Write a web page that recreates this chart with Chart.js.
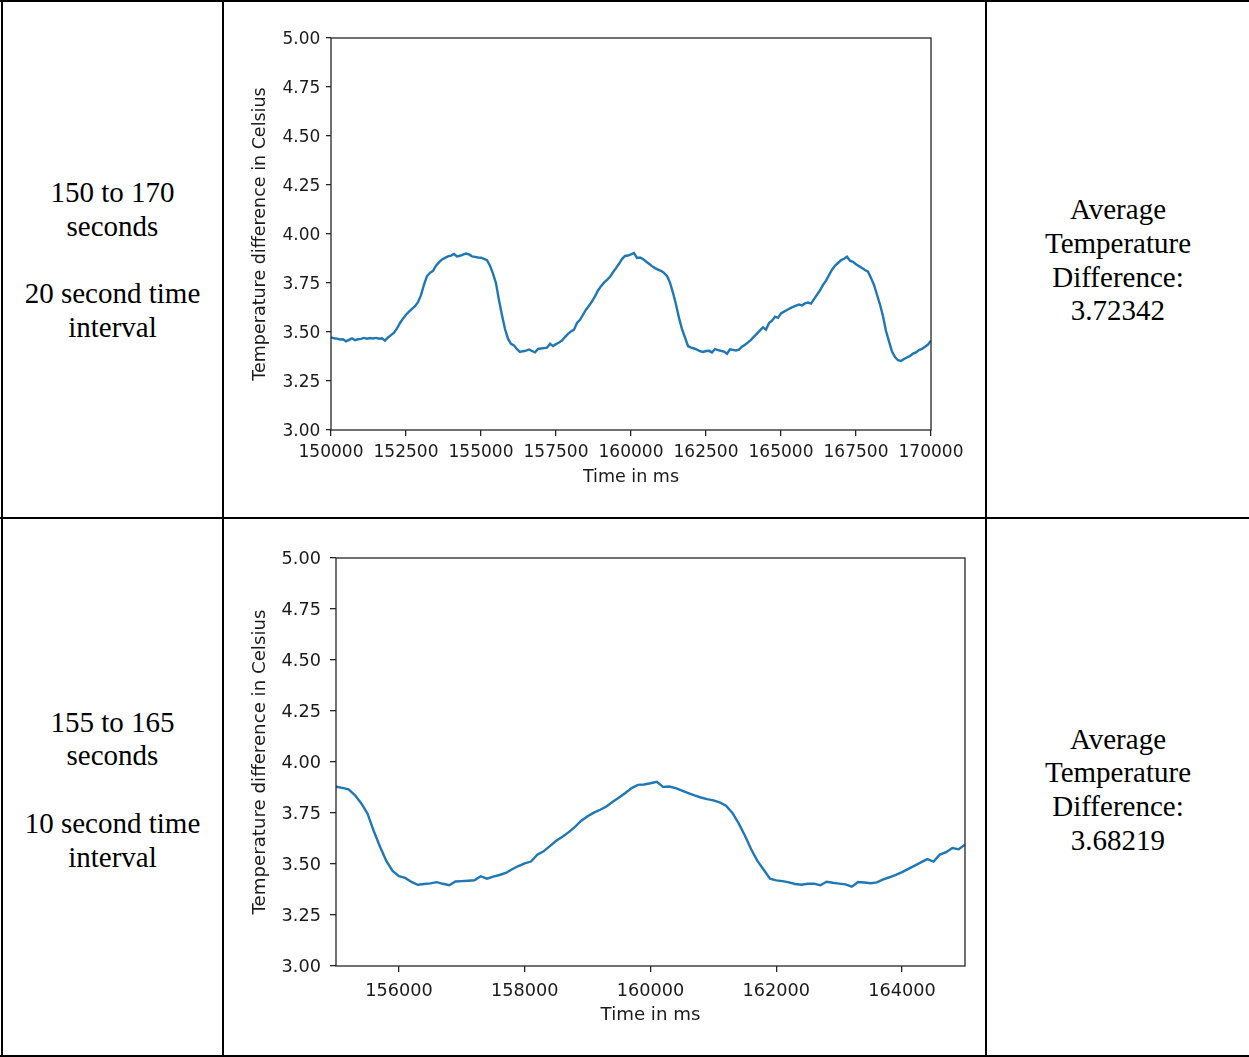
<!DOCTYPE html>
<html>
<head>
<meta charset="utf-8">
<script src="https://cdn.jsdelivr.net/npm/chart.js@4.4.1/dist/chart.umd.min.js"></script>
<style>
  html, body { margin: 0; padding: 0; background: #fff; }
  body { position: relative; width: 1249px; height: 1057px; overflow: hidden; }
  .rule { position: absolute; background: #000; }
  .cell {
    position: absolute; display: flex; align-items: center; justify-content: center;
    text-align: center; font-family: "Liberation Serif", "Times New Roman", serif;
    font-size: 29px; line-height: 33.7px; color: #000;
  }
  canvas { position: absolute; }
</style>
</head>
<body>
<!-- table rules -->
<div class="rule" style="left:0;top:0;width:1249px;height:2px"></div>
<div class="rule" style="left:1px;top:0;width:2px;height:1057px"></div>
<div class="rule" style="left:222px;top:0;width:2px;height:1057px"></div>
<div class="rule" style="left:985px;top:0;width:2px;height:1057px"></div>
<div class="rule" style="left:0;top:517px;width:1249px;height:2px"></div>
<div class="rule" style="left:0;top:1055px;width:1249px;height:2px"></div>

<!-- row 1 -->
<div class="cell" style="left:3px;top:3px;width:219px;height:515px">
  <div>150 to 170<br>seconds<br><br>20 second time<br>interval</div>
</div>
<canvas id="chartWide" width="761" height="515" style="left:224px;top:2px"></canvas>
<div class="cell" style="left:987px;top:3px;width:262px;height:515px">
  <div>Average<br>Temperature<br>Difference:<br>3.72342</div>
</div>

<!-- row 2 -->
<div class="cell" style="left:3px;top:522px;width:219px;height:536px">
  <div>155 to 165<br>seconds<br><br>10 second time<br>interval</div>
</div>
<canvas id="chartNarrow" width="761" height="536" style="left:224px;top:519px"></canvas>
<div class="cell" style="left:987px;top:522px;width:262px;height:536px">
  <div>Average<br>Temperature<br>Difference:<br>3.68219</div>
</div>

<script>
// Sample times (ms) and measured temperature difference (°C)
const timeMs = [
  150000,150100,150200,150300,150400,150500,150600,150700,150800,150900,
  151000,151100,151200,151300,151400,151500,151600,151700,151800,151900,
  152000,152100,152200,152300,152400,152500,152600,152700,152800,152900,
  153000,153100,153200,153300,153400,153500,153600,153700,153800,153900,
  154000,154100,154200,154300,154400,154500,154600,154700,154800,154900,
  155000,155100,155200,155300,155400,155500,155600,155700,155800,155900,
  156000,156100,156200,156300,156400,156500,156600,156700,156800,156900,
  157000,157100,157200,157300,157400,157500,157600,157700,157800,157900,
  158000,158100,158200,158300,158400,158500,158600,158700,158800,158900,
  159000,159100,159200,159300,159400,159500,159600,159700,159800,159900,
  160000,160100,160200,160300,160400,160500,160600,160700,160800,160900,
  161000,161100,161200,161300,161400,161500,161600,161700,161800,161900,
  162000,162100,162200,162300,162400,162500,162600,162700,162800,162900,
  163000,163100,163200,163300,163400,163500,163600,163700,163800,163900,
  164000,164100,164200,164300,164400,164500,164600,164700,164800,164900,
  165000,165100,165200,165300,165400,165500,165600,165700,165800,165900,
  166000,166100,166200,166300,166400,166500,166600,166700,166800,166900,
  167000,167100,167200,167300,167400,167500,167600,167700,167800,167900,
  168000,168100,168200,168300,168400,168500,168600,168700,168800,168900,
  169000,169100,169200,169300,169400,169500,169600,169700,169800,169900,
  170000
];
const tempDiff = [
  3.473,3.468,3.466,3.462,3.463,3.452,3.460,3.468,3.458,3.463,
  3.465,3.470,3.466,3.469,3.467,3.470,3.466,3.468,3.456,3.472,
  3.484,3.497,3.518,3.546,3.568,3.588,3.604,3.618,3.632,3.652,
  3.688,3.742,3.785,3.802,3.812,3.838,3.855,3.870,3.878,3.886,
  3.890,3.898,3.886,3.889,3.895,3.900,3.896,3.886,3.883,3.880,
  3.879,3.873,3.866,3.838,3.798,3.748,3.662,3.585,3.515,3.466,
  3.440,3.432,3.412,3.398,3.402,3.405,3.411,3.403,3.396,3.414,
  3.416,3.418,3.420,3.440,3.428,3.438,3.446,3.456,3.474,3.490,
  3.503,3.512,3.546,3.562,3.588,3.614,3.634,3.656,3.682,3.712,
  3.734,3.752,3.766,3.782,3.805,3.826,3.848,3.872,3.888,3.890,
  3.896,3.903,3.878,3.880,3.872,3.860,3.848,3.836,3.826,3.818,
  3.812,3.802,3.786,3.752,3.700,3.640,3.572,3.515,3.472,3.428,
  3.420,3.416,3.410,3.402,3.398,3.403,3.404,3.396,3.413,3.408,
  3.404,3.400,3.389,3.412,3.409,3.406,3.410,3.425,3.435,3.447,
  3.460,3.476,3.492,3.508,3.524,3.512,3.546,3.558,3.578,3.572,
  3.595,3.604,3.612,3.621,3.628,3.634,3.640,3.636,3.646,3.650,
  3.645,3.668,3.690,3.712,3.740,3.762,3.790,3.818,3.838,3.852,
  3.866,3.874,3.884,3.864,3.858,3.846,3.836,3.826,3.816,3.808,
  3.776,3.740,3.690,3.640,3.580,3.505,3.452,3.400,3.372,3.356,
  3.352,3.362,3.370,3.378,3.390,3.396,3.408,3.414,3.425,3.436,
  3.456
];

// Tick positions
const yTicks = [3.00, 3.25, 3.50, 3.75, 4.00, 4.25, 4.50, 4.75, 5.00];
const xTicksWide = [150000, 152500, 155000, 157500, 160000, 162500, 165000, 167500, 170000];
const xTicksNarrow = [156000, 158000, 160000, 162000, 164000];

const xTitle = 'Time in ms';
const yTitle = 'Temperature difference in Celsius';

const INK = '#1a1a1a';
const SPINE = '#262626';

// Draws the four-sided axes box over the data line
const axesBox = {
  id: 'axesBox',
  afterDatasetsDraw(chart) {
    const { ctx, chartArea: a } = chart;
    ctx.save();
    ctx.strokeStyle = SPINE;
    ctx.lineWidth = 1.3;
    ctx.strokeRect(a.left, a.top, a.right - a.left, a.bottom - a.top);
    ctx.restore();
  }
};

function buildChart(id, g) {
  const points = timeMs.map((t, i) => ({ x: t, y: tempDiff[i] }));
  const tickFont = { family: 'DejaVu Sans', size: g.tickSize };
  const titleFont = { family: 'DejaVu Sans', size: g.titleSize };
  return new Chart(document.getElementById(id), {
    type: 'line',
    data: {
      datasets: [{
        data: points,
        borderColor: '#1f77b4',
        borderWidth: 2.4,
        pointRadius: 0,
        tension: 0,
        fill: false,
        clip: 0
      }]
    },
    options: {
      responsive: false,
      animation: false,
      devicePixelRatio: 1,
      layout: { padding: { top: g.padTop, right: g.padRight, left: 0, bottom: 0 } },
      plugins: { legend: { display: false }, tooltip: { enabled: false } },
      scales: {
        x: {
          type: 'linear',
          min: g.xMin,
          max: g.xMax,
          afterBuildTicks: s => { s.ticks = g.xTicks.map(v => ({ value: v })); },
          afterFit: s => { s.height = g.xAxisHeight; },
          ticks: {
            autoSkip: false, maxRotation: 0, minRotation: 0,
            padding: g.xTickPad, color: INK, font: tickFont,
            callback: v => String(v)
          },
          grid: { drawOnChartArea: false, drawTicks: true, tickLength: 6, color: SPINE, lineWidth: 1.3 },
          border: { display: false },
          title: { display: true, text: xTitle, color: INK, font: titleFont, padding: { top: 0, bottom: g.xTitlePad } }
        },
        y: {
          type: 'linear',
          min: 3,
          max: 5,
          afterBuildTicks: s => { s.ticks = yTicks.map(v => ({ value: v })); },
          afterFit: s => { s.width = g.yAxisWidth; },
          ticks: {
            padding: g.yTickPad, labelOffset: 1.5, color: INK, font: tickFont,
            callback: v => Number(v).toFixed(2)
          },
          grid: { drawOnChartArea: false, drawTicks: true, tickLength: g.yTickLen, color: SPINE, lineWidth: 1.3 },
          border: { display: false },
          title: { display: true, text: yTitle, color: INK, font: titleFont, padding: { top: g.yTitlePad, bottom: 0 } }
        }
      }
    },
    plugins: [axesBox]
  });
}

buildChart('chartWide', {
  xMin: 150000, xMax: 170000, xTicks: xTicksWide,
  padTop: 36, padRight: 54, xAxisHeight: 87, yAxisWidth: 107,
  tickSize: 17, titleSize: 17.5,
  xTickPad: 6.5, yTickPad: 5.7, yTickLen: 5,
  xTitlePad: 28.8, yTitlePad: 25.5
});

buildChart('chartNarrow', {
  xMin: 155000, xMax: 165000, xTicks: xTicksNarrow,
  padTop: 39, padRight: 20, xAxisHeight: 89, yAxisWidth: 112,
  tickSize: 17.7, titleSize: 18.2,
  xTickPad: 8.5, yTickPad: 9, yTickLen: 6,
  xTitlePad: 28.6, yTitlePad: 25.6
});
</script>
</body>
</html>
